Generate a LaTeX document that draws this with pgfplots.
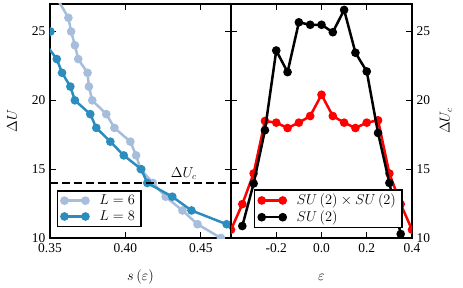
\documentclass[border=0pt]{standalone}
\usepackage{fontspec}
\setmainfont{Liberation Serif}
\usepackage{pgfplots}
\pgfplotsset{compat=1.18}
\definecolor{lb}{RGB}{166,189,219}
\definecolor{db}{RGB}{43,140,190}
\pgfplotsset{
  common/.style={
    scale only axis, width=181bp, height=234bp,
    ymin=10, ymax=27, ytick={10,15,20,25},
    tick align=inside, major tick length=6bp,
    axis line style={line width=1.5bp},
    every tick/.style={line width=1bp, black},
    /pgf/number format/assume math mode=true,
    tick label style={font=\fontsize{13.5}{16}\selectfont},
    xticklabel style={inner ysep=1bp, yshift=-4bp},
    yticklabel style={inner ysep=0.5bp},
    label style={font=\fontsize{13.5}{16}\selectfont},
    clip marker paths=true,
    legend cell align=left,
    legend style={draw=black, line width=1.5bp, inner xsep=4bp, inner ysep=2bp,
      font=\fontsize{13.5}{16}\selectfont, row sep=0bp,
      /tikz/every odd column/.append style={column sep=9bp}},
    legend image code/.code={\draw[##1] plot coordinates {(0bp,0bp) (21bp,0bp)};},
    every axis plot/.append style={line width=2.5bp, mark=*, mark size=3bp, mark options={solid}},
  }
}
\begin{document}
\fontsize{13.5}{16}\selectfont
\begin{tikzpicture}
\path[use as bounding box] (-50bp,-50bp) rectangle (413bp,238bp);
\begin{axis}[common, at={(0bp,0bp)}, anchor=south west,
  xmin=0.35, xmax=0.47, xtick={0.35,0.40,0.45},
  xticklabel style={/pgf/number format/.cd, fixed, fixed zerofill, precision=2},
  xlabel={$s\,(\varepsilon)$}, ylabel={$\Delta U$},
  xlabel style={at={(rel axis cs:0.5,-0.167)}, anchor=center},
  ylabel style={at={(rel axis cs:-0.21,0.5)}, anchor=center},
  legend style={at={(rel axis cs:0.037,0.205)}, anchor=north west},
]
\addplot[color=lb] coordinates {
(0.3515,28) (0.3622,26) (0.3640,25) (0.3665,24) (0.3687,23) (0.3749,22) (0.3758,21) (0.378,20)
(0.3873,19) (0.3927,18) (0.4033,17) (0.4071,16) (0.41,15) (0.4182,14) (0.4267,13)
(0.4378,12) (0.4478,11) (0.4633,10)};
\addlegendentry{$L=6$}
\addplot[color=db] coordinates {
(0.3503,25) (0.3477,24) (0.3545,23) (0.358,22) (0.3635,21) (0.3665,20) (0.3767,19)
(0.3807,18) (0.39,17) (0.3989,16) (0.4105,15) (0.4145,14) (0.4311,13) (0.4438,12)
(0.4671,11) (0.4757,10)};
\addlegendentry{$L=8$}
\addplot[black, line width=2.5bp, dash pattern=on 8bp off 4bp, mark=none, forget plot] coordinates {(0.35,14) (0.47,14)};
\node[anchor=south, inner sep=1bp] at (axis cs:0.4387,14.15) {$\Delta U_c$};
\end{axis}
\begin{axis}[common, at={(181bp,0bp)}, anchor=south west,
  xmin=-0.4, xmax=0.4, xtick={-0.2,0,0.2,0.4},
  xticklabel style={/pgf/number format/.cd, fixed, fixed zerofill, precision=1},
  yticklabel pos=right,
  xlabel={$\varepsilon$}, ylabel={$\Delta U_c$},
  xlabel style={at={(rel axis cs:0.5,-0.167)}, anchor=center},
  ylabel style={at={(rel axis cs:1.187,0.5)}, anchor=center},
  legend style={at={(rel axis cs:0.127,0.208)}, anchor=north west},
]
\addplot[color=red] coordinates {
(-0.4,10.6) (-0.35,12.46) (-0.3,14.69) (-0.25,18.5) (-0.2,18.38) (-0.15,17.99) (-0.1,18.38)
(-0.05,18.86) (0,20.41) (0.05,18.86) (0.1,18.38) (0.15,17.99) (0.2,18.38) (0.25,18.55)
(0.3,14.69) (0.35,12.46) (0.4,10.6)};
\addlegendentry{$SU\,(2)\times SU\,(2)$}
\addplot[color=black] coordinates {
(-0.35,10.87) (-0.3,13.96) (-0.25,17.83) (-0.2,23.62) (-0.15,22.05) (-0.1,25.67) (-0.05,25.49)
(0,25.49) (0.05,24.95) (0.1,26.57) (0.15,23.46) (0.2,22.10) (0.25,17.63) (0.3,14.0) (0.35,10.29)};
\addlegendentry{$SU\,(2)$}
\addplot[black, line width=2.5bp, dash pattern=on 8bp off 4bp, mark=none, forget plot] coordinates {(-0.4,14) (-0.349,14)};
\end{axis}
\end{tikzpicture}
\end{document}
